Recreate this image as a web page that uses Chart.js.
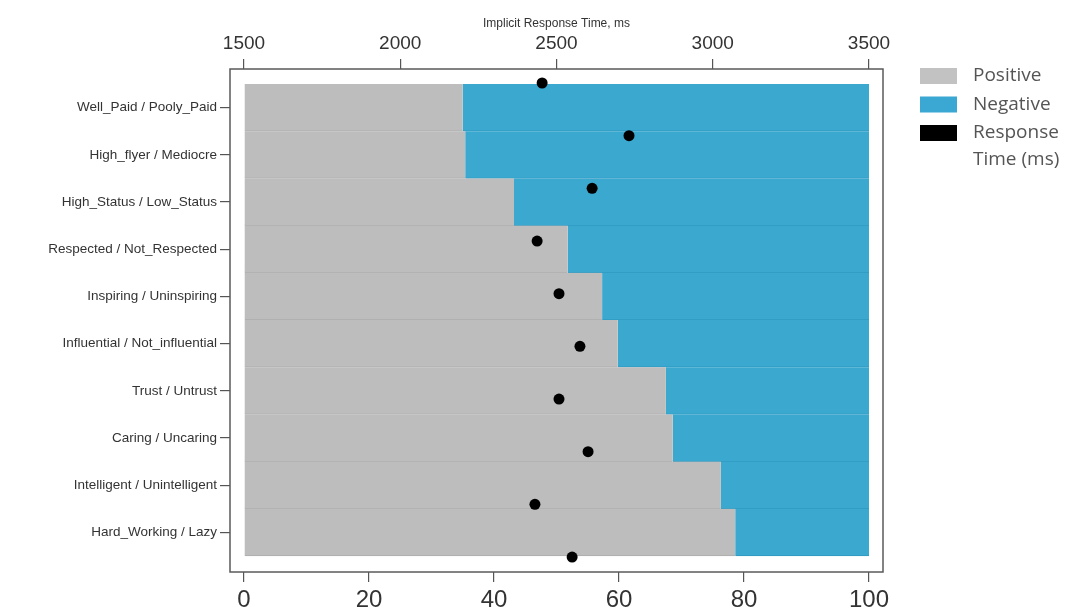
<!DOCTYPE html>
<html>
<head>
<meta charset="utf-8">
<script src="https://cdn.jsdelivr.net/npm/chart.js@4"></script>
<style>
  html, body { margin: 0; padding: 0; background: #fff; }
  #wrap { width: 1081px; height: 615px; }
</style>
</head>
<body>
<div id="wrap"><canvas id="barImplicito"></canvas></div>
<script>
// categorias de arriba a abajo
var categorias = [
    'Well_Paid / Pooly_Paid',
    'High_flyer / Mediocre',
    'High_Status / Low_Status',
    'Respected / Not_Respected',
    'Inspiring / Uninspiring',
    'Influential / Not_influential',
    'Trust / Untrust',
    'Caring / Uncaring',
    'Intelligent / Unintelligent',
    'Hard_Working / Lazy'
];
var positivo = [35.0, 35.4, 43.2, 51.8, 57.3, 59.8, 67.5, 68.6, 76.3, 78.6];
var negativo = [65.0, 64.6, 56.8, 48.2, 42.7, 40.2, 32.5, 31.4, 23.7, 21.4];
var tiempoRespuesta = [2454, 2732, 2614, 2438, 2508, 2575, 2508, 2601, 2431, 2550];
var ticksPorcentaje = [0, 20, 40, 60, 80, 100];
var ticksTiempo = [1500, 2000, 2500, 3000, 3500];

function aPuntos(valores) {
    var puntos = [];
    for (var i = 0; i < valores.length; i++) {
        puntos.push({ x: valores[i], y: i });
    }
    return puntos;
}

// marco alrededor del area del grafico
const marco = {
    id: 'marco',
    afterDraw: function (chart) {
        const a = chart.chartArea;
        const ctx = chart.ctx;
        ctx.save();
        ctx.strokeStyle = '#5a5a5a';
        ctx.lineWidth = 1.5;
        ctx.strokeRect(a.left, a.top, a.right - a.left, a.bottom - a.top);
        ctx.restore();
    }
};

// leyenda a la derecha
const leyenda = {
    id: 'leyenda',
    afterDraw: function (chart) {
        const ctx = chart.ctx;
        const items = [
            { texto: ['Positive'], color: '#c2c2c2' },
            { texto: ['Negative'], color: '#3aa8d2' },
            { texto: ['Response', 'Time (ms)'], color: '#000000' }
        ];
        ctx.save();
        ctx.font = '19px "Open Sans"';
        ctx.textBaseline = 'middle';
        var y = 76;
        for (var i = 0; i < items.length; i++) {
            ctx.fillStyle = items[i].color;
            ctx.fillRect(920, y - 8, 37, 16);
            ctx.fillStyle = '#555555';
            for (var j = 0; j < items[i].texto.length; j++) {
                ctx.fillText(items[i].texto[j], 973, y + j * 27);
            }
            y += 28.5;
        }
        ctx.restore();
    }
};

const ctx = document.getElementById('barImplicito').getContext('2d');
const myChart = new Chart(ctx, {
    type: 'bar',
    data: {
        datasets: [{
            type: 'scatter',
            label: 'Response Time (ms)',
            data: aPuntos(tiempoRespuesta),
            xAxisID: 'x2',
            yAxisID: 'y2',
            backgroundColor: '#000000',
            borderWidth: 0,
            pointRadius: 5.5
        }, {
            label: 'Positive',
            data: aPuntos(positivo),
            xAxisID: 'x',
            yAxisID: 'y',
            stack: 'total',
            grouped: false,
            backgroundColor: '#bdbdbd',
            borderColor: '#adadad',
            borderWidth: { top: 0, left: 0, right: 0, bottom: 1 },
            borderSkipped: false,
            barPercentage: 1,
            categoryPercentage: 1
        }, {
            label: 'Negative',
            data: aPuntos(negativo),
            xAxisID: 'x',
            yAxisID: 'y',
            stack: 'total',
            grouped: false,
            backgroundColor: '#3aa8cf',
            borderColor: '#2f98c0',
            borderWidth: { top: 0, left: 0, right: 0, bottom: 1 },
            borderSkipped: false,
            barPercentage: 1,
            categoryPercentage: 1
        }]
    },
    options: {
        indexAxis: 'y',
        responsive: true,
        maintainAspectRatio: false,
        animation: false,
        layout: { padding: { left: 0, right: 198, top: 0, bottom: 0 } },
        plugins: {
            legend: { display: false },
            tooltip: { enabled: false }
        },
        scales: {
            x: {
                type: 'linear',
                axis: 'x',
                position: 'bottom',
                stacked: true,
                offset: false,
                min: -2.24,
                max: 102.24,
                afterBuildTicks: function (axis) {
                    axis.ticks = ticksPorcentaje.map(function (v) { return { value: v }; });
                },
                afterFit: function (axis) { axis.height = 43; },
                border: { display: false },
                grid: { offset: false, drawOnChartArea: false, drawTicks: true, tickLength: 10, color: '#555', lineWidth: 1.2 },
                ticks: {
                    color: '#333',
                    padding: 4,
                    maxRotation: 0,
                    autoSkip: false,
                    font: { family: '"Liberation Sans", Arial', size: 24 },
                    callback: function (v) { return String(v); }
                }
            },
            x2: {
                type: 'linear',
                axis: 'x',
                position: 'top',
                offset: false,
                min: 1455.2,
                max: 3544.8,
                afterBuildTicks: function (axis) {
                    axis.ticks = ticksTiempo.map(function (v) { return { value: v }; });
                },
                afterFit: function (axis) { axis.height = 69; },
                border: { display: false },
                grid: { offset: false, drawOnChartArea: false, drawTicks: true, tickLength: 10, color: '#555', lineWidth: 1.2 },
                title: {
                    display: true,
                    text: 'Implicit Response Time, ms',
                    color: '#333',
                    font: { family: '"Liberation Sans", Arial', size: 12 },
                    padding: { top: 16, bottom: 0 }
                },
                ticks: {
                    color: '#333',
                    padding: 4,
                    maxRotation: 0,
                    autoSkip: false,
                    font: { family: '"Liberation Sans", Arial', size: 19 },
                    callback: function (v) { return String(v); }
                }
            },
            y: {
                type: 'linear',
                axis: 'y',
                position: 'left',
                reverse: true,
                stacked: true,
                offset: false,
                min: -0.818,
                max: 9.839,
                afterBuildTicks: function (axis) {
                    axis.ticks = categorias.map(function (c, i) { return { value: i }; });
                },
                afterFit: function (axis) { axis.width = 230; },
                border: { display: false },
                grid: { offset: false, drawOnChartArea: false, drawTicks: true, tickLength: 10, color: '#555', lineWidth: 1.2 },
                ticks: {
                    color: '#333',
                    padding: 3,
                    autoSkip: false,
                    font: { family: '"Liberation Sans", Arial', size: 13.5 },
                    callback: function (v) { return categorias[v]; }
                }
            },
            y2: {
                type: 'linear',
                axis: 'y',
                display: false,
                offset: false,
                reverse: true,
                min: -0.266,
                max: 9.284
            }
        }
    },
    plugins: [marco, leyenda]
});
</script>
</body>
</html>
